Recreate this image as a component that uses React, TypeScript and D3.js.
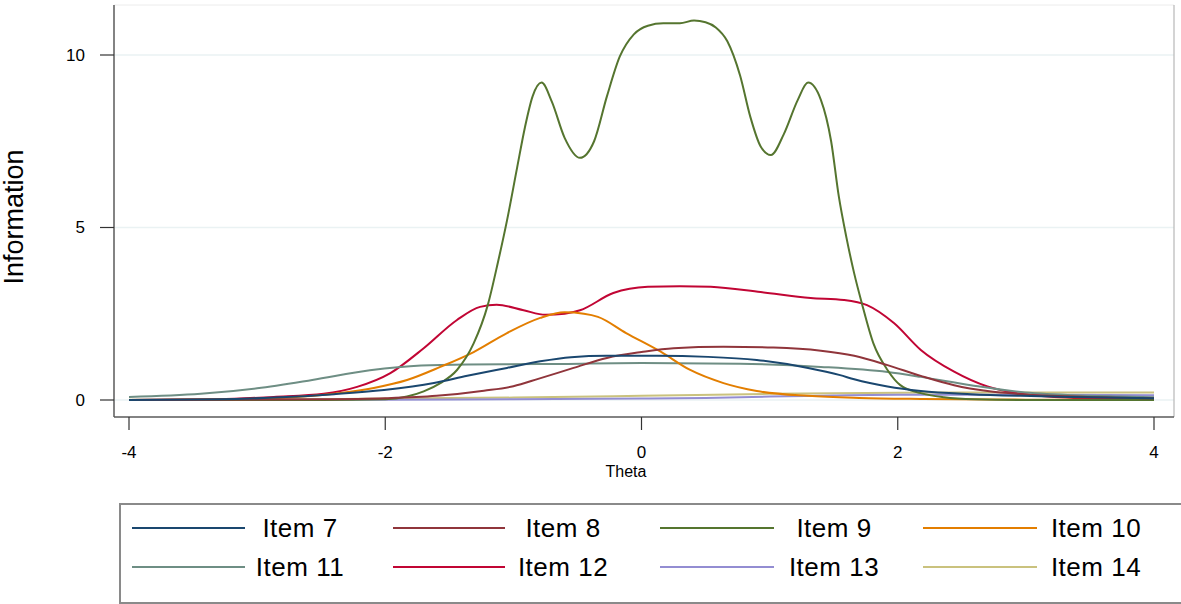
import React from "react";
import * as d3 from "d3";

type Pt = [number, number];

// Item information functions, [theta, information]
const item7: Pt[] = [[-4, 0.0], [-3.3, 0.02], [-2.87, 0.07], [-2.4, 0.17], [-2.01, 0.29], [-1.62, 0.49], [-1.36, 0.7], [-1.05, 0.93], [-0.79, 1.12], [-0.55, 1.24], [-0.27, 1.28], [0.12, 1.28], [0.52, 1.25], [0.9, 1.16], [1.3, 0.93], [1.55, 0.72], [1.66, 0.6], [1.92, 0.39], [2.18, 0.26], [2.57, 0.17], [2.96, 0.12], [3.5, 0.08], [4, 0.05]];
const item8: Pt[] = [[-4, 0.0], [-2.5, 0.02], [-2.0, 0.05], [-1.6, 0.12], [-1.23, 0.27], [-1.0, 0.4], [-0.8, 0.62], [-0.53, 0.93], [-0.27, 1.22], [0, 1.39], [0.25, 1.5], [0.64, 1.54], [1.03, 1.52], [1.4, 1.43], [1.66, 1.28], [1.92, 1.01], [2.18, 0.7], [2.44, 0.43], [2.7, 0.26], [2.96, 0.17], [3.48, 0.09], [4, 0.05]];
const item9: Pt[] = [[-4, 0], [-2.5, 0], [-2.0, 0.02], [-1.83, 0.1], [-1.7, 0.25], [-1.57, 0.49], [-1.44, 0.87], [-1.31, 1.64], [-1.2, 2.75], [-1.12, 4.0], [-1.05, 5.2], [-0.97, 6.75], [-0.91, 7.9], [-0.85, 8.8], [-0.78, 9.2], [-0.7, 8.65], [-0.6, 7.6], [-0.48, 7.02], [-0.37, 7.5], [-0.27, 8.8], [-0.17, 9.95], [-0.06, 10.6], [0.05, 10.85], [0.17, 10.92], [0.3, 10.92], [0.41, 11.0], [0.5, 10.95], [0.58, 10.8], [0.67, 10.4], [0.77, 9.4], [0.85, 8.2], [0.93, 7.35], [1.01, 7.1], [1.11, 7.7], [1.22, 8.7], [1.3, 9.2], [1.4, 8.7], [1.48, 7.5], [1.54, 5.9], [1.6, 4.7], [1.66, 3.67], [1.72, 2.8], [1.81, 1.64], [1.92, 0.87], [2.02, 0.43], [2.18, 0.2], [2.36, 0.08], [2.6, 0.02], [3, 0], [4, 0]];
const item10: Pt[] = [[-4, 0], [-3.2, 0.02], [-2.87, 0.05], [-2.35, 0.2], [-2.09, 0.35], [-1.83, 0.58], [-1.57, 0.96], [-1.31, 1.39], [-1.05, 1.94], [-0.79, 2.38], [-0.6, 2.54], [-0.45, 2.5], [-0.34, 2.41], [-0.12, 1.94], [0.15, 1.4], [0.38, 0.87], [0.64, 0.49], [0.9, 0.26], [1.3, 0.12], [1.7, 0.06], [2.2, 0.03], [3, 0.01], [4, 0]];
const item11: Pt[] = [[-4, 0.09], [-3.44, 0.18], [-3.0, 0.34], [-2.57, 0.58], [-2.12, 0.86], [-1.72, 1.0], [-1.36, 1.03], [-0.8, 1.04], [0, 1.07], [0.77, 1.05], [1.4, 0.96], [1.92, 0.81], [2.18, 0.67], [2.57, 0.43], [2.96, 0.23], [3.35, 0.14], [3.74, 0.1], [4, 0.08]];
const item12: Pt[] = [[-4, 0], [-3.3, 0.02], [-2.87, 0.09], [-2.48, 0.18], [-2.22, 0.38], [-1.96, 0.78], [-1.7, 1.5], [-1.44, 2.32], [-1.26, 2.7], [-1.13, 2.76], [-0.92, 2.6], [-0.75, 2.47], [-0.6, 2.5], [-0.48, 2.6], [-0.22, 3.1], [0.05, 3.28], [0.3, 3.3], [0.54, 3.28], [0.93, 3.13], [1.32, 2.96], [1.58, 2.9], [1.76, 2.75], [1.97, 2.23], [2.18, 1.45], [2.44, 0.82], [2.7, 0.39], [2.96, 0.18], [3.22, 0.09], [3.5, 0.05], [4, 0.02]];
const item13: Pt[] = [[-4, 0], [-2, 0.01], [-1, 0.02], [0, 0.04], [0.5, 0.06], [1, 0.1], [1.5, 0.13], [2, 0.15], [3, 0.15], [4, 0.14]];
const item14: Pt[] = [[-4, 0.01], [-3, 0.02], [-2, 0.04], [-1, 0.07], [0, 0.12], [1, 0.18], [2, 0.21], [3, 0.22], [4, 0.22]];

const seriesNames = ["Item 7", "Item 8", "Item 9", "Item 10", "Item 11", "Item 12", "Item 13", "Item 14"];
const seriesData = [item7, item8, item9, item10, item11, item12, item13, item14];
const seriesColors = ["#1a476f", "#90353b", "#55752f", "#e37e00", "#6e8e84", "#c10534", "#938dd2", "#cac27e"];

const xTicks = [-4, -2, 0, 2, 4];
const yTicks = [0, 5, 10];

const W = 1181;
const H = 604;
const FONT = "'Liberation Sans', Arial, Helvetica, sans-serif";

export default function App() {
  // plot frame
  const left = 114, right = 1174, top = 5, bottom = 417;
  const x = d3.scaleLinear().domain([-4, 4]).range([129, 1154]);
  const y = d3.scaleLinear().domain([0, 10]).range([400, 55]);

  const line = d3
    .line<Pt>()
    .x((d) => x(d[0]))
    .y((d) => y(d[1]))
    .curve(d3.curveMonotoneX);

  // legend layout: 4 columns, 2 rows
  const legendCols = [
    { x1: 132, x2: 245, tx: 300 },
    { x1: 393, x2: 505, tx: 563 },
    { x1: 660, x2: 774, tx: 834 },
    { x1: 923, x2: 1037, tx: 1096 },
  ];
  const legendRows = [528, 567];

  // draw order: Item 14 at the back, Item 7 in front
  const order = seriesData.map((_, i) => i).reverse();

  return (
    <svg
      width={W}
      height={H}
      style={{ position: "absolute", left: 0, top: 0, background: "#fff" }}
      fontFamily={FONT}
    >
      {/* gridlines */}
      {yTicks.map((t) => (
        <line key={"g" + t} x1={left} x2={right} y1={y(t)} y2={y(t)} stroke="#eaf2f3" strokeWidth={1.5} />
      ))}

      {/* frame */}
      <line x1={left} x2={right} y1={top} y2={top} stroke="#ececec" strokeWidth={1} />
      <line x1={right} x2={right} y1={top} y2={bottom} stroke="#b8b8b8" strokeWidth={1.2} />

      {/* series */}
      {order.map((i) => (
        <path
          key={seriesNames[i]}
          d={line(seriesData[i]) || ""}
          fill="none"
          stroke={seriesColors[i]}
          strokeWidth={2}
          strokeLinejoin="round"
        />
      ))}

      {/* axes */}
      <line x1={left} x2={left} y1={top} y2={bottom} stroke="#5a5a5a" strokeWidth={1.5} />
      <line x1={left} x2={right} y1={bottom} y2={bottom} stroke="#5a5a5a" strokeWidth={1.5} />

      {yTicks.map((t) => (
        <g key={"yt" + t}>
          <line x1={left - 14} x2={left} y1={y(t)} y2={y(t)} stroke="#333" strokeWidth={1.2} />
          <text x={85} y={y(t)} dy="0.35em" textAnchor="end" fontSize={17} fill="#000">
            {t}
          </text>
        </g>
      ))}
      {xTicks.map((t) => (
        <g key={"xt" + t}>
          <line x1={x(t)} x2={x(t)} y1={bottom} y2={bottom + 13} stroke="#333" strokeWidth={1.2} />
          <text x={x(t)} y={458} textAnchor="middle" fontSize={17} fill="#000">
            {t}
          </text>
        </g>
      ))}

      {/* axis titles */}
      <text x={626} y={477} textAnchor="middle" fontSize={16} fill="#000">
        Theta
      </text>
      <text
        transform={`translate(23,217) rotate(-90)`}
        textAnchor="middle"
        fontSize={27}
        fill="#000"
      >
        Information
      </text>

      {/* legend */}
      <rect x={120} y={504} width={1080} height={99} fill="#fff" stroke="#8a8a8a" strokeWidth={2} />
      {seriesNames.map((name, i) => {
        const c = legendCols[i % 4];
        const ry = legendRows[Math.floor(i / 4)];
        return (
          <g key={"lg" + name}>
            <line x1={c.x1} x2={c.x2} y1={ry} y2={ry} stroke={seriesColors[i]} strokeWidth={2} />
            <text
              x={c.tx}
              y={ry}
              dy="0.35em"
              textAnchor="middle"
              fontSize={26}
              letterSpacing={0.5}
              fill="#000"
            >
              {name}
            </text>
          </g>
        );
      })}
    </svg>
  );
}
